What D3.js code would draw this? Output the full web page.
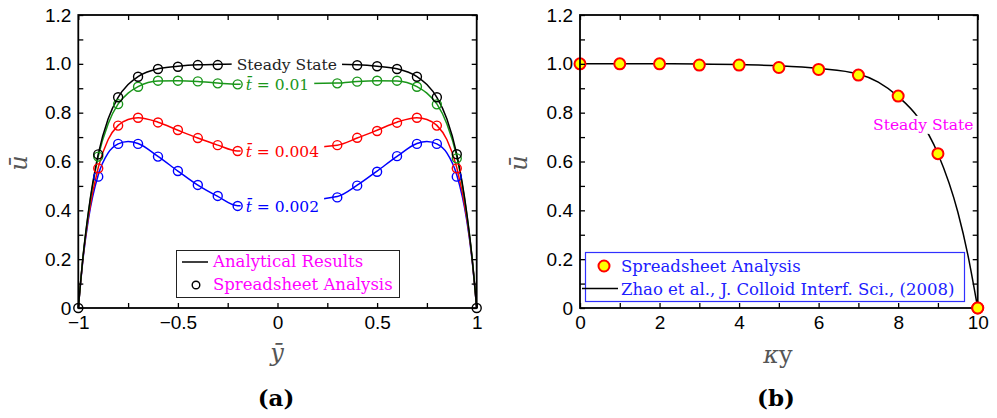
<!DOCTYPE html>
<html lang="en">
<head>
  <meta charset="UTF-8" />
  <title>Velocity profiles</title>
  <script src="https://d3js.org/d3.v7.min.js"></script>
  <style>
    body { margin: 0; background: #fff; }
    svg { display: block; }
    .tick text { font-family: 'Liberation Sans', Arial, sans-serif; font-size: 19px; fill: #000; }
    .tick line { stroke: #000; stroke-width: 1.3; }
    .tex { font-family: 'DejaVu Serif', serif; }
  </style>
</head>
<body>
  <svg id="chart"></svg>

  <script>
    // ---- panel (a): transient profiles, ybar in [-1, 1]
    const lineY = [-1, -0.975, -0.95, -0.9, -0.85, -0.8, -0.75, -0.7, -0.6, -0.5, -0.4, -0.3, -0.2,
                   0.3, 0.4, 0.5, 0.6, 0.7, 0.75, 0.8, 0.85, 0.9, 0.95, 0.975, 1];
    const steadyLine = [0, 0.22, 0.39, 0.63, 0.775, 0.863, 0.915, 0.948, 0.980, 0.990, 0.996, 0.998, 0.999,
                        0.998, 0.996, 0.990, 0.980, 0.948, 0.915, 0.863, 0.775, 0.63, 0.39, 0.22, 0];
    const t01Line = [0, 0.22, 0.385, 0.62, 0.755, 0.836, 0.88, 0.907, 0.930, 0.931, 0.928, 0.921, 0.916,
                     0.921, 0.928, 0.931, 0.930, 0.907, 0.88, 0.836, 0.755, 0.62, 0.385, 0.22, 0];
    const t004Line = [0, 0.215, 0.37, 0.575, 0.69, 0.748, 0.772, 0.779, 0.761, 0.728, 0.696, 0.667, 0.643,
                      0.667, 0.696, 0.728, 0.761, 0.779, 0.772, 0.748, 0.69, 0.575, 0.37, 0.215, 0];
    const t002Line = [0, 0.21, 0.36, 0.545, 0.635, 0.672, 0.682, 0.674, 0.621, 0.561, 0.503, 0.457, 0.419,
                      0.457, 0.503, 0.561, 0.621, 0.674, 0.682, 0.672, 0.635, 0.545, 0.36, 0.21, 0];

    const steadyMarkY = [-1, -0.9, -0.8, -0.7, -0.6, -0.5, -0.4, -0.3, 0.4, 0.5, 0.6, 0.7, 0.8, 0.9, 1];
    const steadyMark = [0, 0.629, 0.863, 0.947, 0.979, 0.988, 0.995, 0.995, 0.994, 0.990, 0.979, 0.947, 0.863, 0.630, 0];
    const markY = [-0.9, -0.8, -0.7, -0.6, -0.5, -0.4, -0.3, -0.2, 0.3, 0.4, 0.5, 0.6, 0.7, 0.8, 0.9];
    const t01Mark = [0.62, 0.835, 0.906, 0.931, 0.931, 0.928, 0.92, 0.916, 0.92, 0.927, 0.931, 0.931, 0.906, 0.834, 0.613];
    const t004Mark = [0.572, 0.747, 0.779, 0.760, 0.729, 0.696, 0.667, 0.643, 0.667, 0.697, 0.725, 0.759, 0.779, 0.747, 0.572];
    const t002Mark = [0.538, 0.672, 0.672, 0.620, 0.561, 0.504, 0.459, 0.418, 0.453, 0.501, 0.558, 0.622, 0.672, 0.672, 0.538];

    const seriesNames = ["Steady State", "0.01", "0.004", "0.002"];
    const seriesColors = ["#000000", "#1a961a", "#ff0000", "#0000ff"];
    const legendA = ["Analytical Results", "Spreadsheet Analysis"];

    // ---- panel (b): steady state vs Zhao et al.
    const kyLine = [0, 1, 2, 3, 4, 5, 6, 7, 7.5, 8, 8.5, 9, 9.5, 9.75, 10];
    const zhaoLine = [1, 1, 1, 0.999, 0.997, 0.992, 0.981, 0.958, 0.925, 0.866, 0.78, 0.632, 0.393, 0.22, 0];
    const kyMark = [0, 1, 2, 3, 4, 5, 6, 7, 8, 9, 10];
    const sheetMark = [1.0, 1.0, 1.0, 0.995, 0.995, 0.985, 0.977, 0.954, 0.868, 0.632, 0];
    const legendB = ["Spreadsheet Analysis", "Zhao et al., J. Colloid Interf. Sci., (2008)"];

    const yTicks = d3.range(0, 13).map(i => i / 10);
    const yLabels = [0, 0.2, 0.4, 0.6, 0.8, 1.0, 1.2];
    const xTicksA = d3.range(-4, 5).map(i => i / 4);
    const xLabelsA = [-1, -0.5, 0, 0.5, 1];
    const xTicksB = d3.range(0, 11);
    const xLabelsB = [0, 2, 4, 6, 8, 10];

    const svg = d3.select("#chart").attr("width", 997).attr("height", 418);

    const plotTop = 15, plotBottom = 308;
    const xA = d3.scaleLinear().domain([-1, 1]).range([78.3, 476.7]);
    const yA = d3.scaleLinear().domain([0, 1.2]).range([plotBottom, plotTop]);
    const xB = d3.scaleLinear().domain([0, 10]).range([580, 977.7]);
    const yB = d3.scaleLinear().domain([0, 1.2]).range([plotBottom, plotTop]);

    const isIn = (v, list) => list.some(l => Math.abs(l - v) < 1e-9);
    const fmtY = v => v === 0 ? "0" : d3.format(".1f")(v);

    function frame(x, y, xTicks, xLabels, xFmt) {
      const g = svg.append("g").attr("font-family", "'Liberation Sans', Arial, sans-serif");
      g.append("g").attr("transform", `translate(0,${plotBottom})`)
        .call(d3.axisBottom(x).tickValues(xTicks).tickSizeInner(-5).tickSizeOuter(0).tickPadding(8)
          .tickFormat(d => isIn(d, xLabels) ? xFmt(d) : ""));
      g.append("g").attr("transform", `translate(0,${plotTop})`)
        .call(d3.axisTop(x).tickValues(xTicks).tickSizeInner(-5).tickSizeOuter(0).tickFormat(""));
      g.append("g").attr("transform", `translate(${x.range()[0]},0)`)
        .call(d3.axisLeft(y).tickValues(yTicks).tickSizeInner(-5).tickSizeOuter(0).tickPadding(7)
          .tickFormat(d => isIn(d, yLabels) ? fmtY(d) : ""));
      g.append("g").attr("transform", `translate(${x.range()[1]},0)`)
        .call(d3.axisRight(y).tickValues(yTicks).tickSizeInner(-5).tickSizeOuter(0).tickFormat(""));
      g.selectAll(".domain").remove();
      g.selectAll("g").attr("font-family", null);
      return g;
    }

    function labelBox(g, px, py, build, color) {
      const grp = g.append("g");
      const bg = grp.append("rect").attr("fill", "#fff");
      const t = grp.append("text").attr("class", "tex").attr("x", px).attr("y", py)
        .attr("font-size", "15.5px").attr("fill", color);
      build(t);
      const b = t.node().getBBox();
      bg.attr("x", b.x - 5).attr("y", b.y).attr("width", b.width + 10).attr("height", b.height);
    }

    // ================= panel (a)
    const lines = [steadyLine, t01Line, t004Line, t002Line];
    const marks = [steadyMark, t01Mark, t004Mark, t002Mark];
    const lineGen = (x, y, xs) => d3.line().x((d, i) => x(xs[i])).y(d => y(d)).curve(d3.curveMonotoneX);

    const gA = svg.append("g");
    [3, 2, 1, 0].forEach(k => {
      gA.append("path").datum(lines[k])
        .attr("fill", "none").attr("stroke", seriesColors[k]).attr("stroke-width", 1.5)
        .attr("d", lineGen(xA, yA, lineY));
    });

    // inline labels sit on a white box that hides the curve behind them
    labelBox(gA, xA(-0.205), yA(0.997) + 5, t => t.text(seriesNames[0]), "#222");
    [1, 2, 3].forEach(k => {
      const yv = [0, 0.916, 0.643, 0.418][k];
      labelBox(gA, xA(-0.16), yA(yv) + 6, t => {
        t.append("tspan").attr("font-style", "italic").text("t\u0304");
        t.append("tspan").text(" = " + seriesNames[k]);
      }, seriesColors[k]);
    });

    [3, 2, 1, 0].forEach(k => {
      const xs = k === 0 ? steadyMarkY : markY;
      gA.selectAll(null).data(marks[k]).join("circle")
        .attr("cx", (d, i) => xA(xs[i])).attr("cy", d => yA(d)).attr("r", 4.5)
        .attr("fill", "none").attr("stroke", seriesColors[k]).attr("stroke-width", 1.4);
    });

    frame(xA, yA, xTicksA, xLabelsA, d => d === 0 ? "0" : d3.format("")(d));
    svg.append("rect").attr("x", xA(-1)).attr("y", plotTop).attr("width", xA(1) - xA(-1)).attr("height", plotBottom - plotTop)
      .attr("fill", "none").attr("stroke", "#000").attr("stroke-width", 1.8);

    // legend (a)
    const lgA = svg.append("g");
    lgA.append("rect").attr("x", 176.5).attr("y", 250.5).attr("width", 223).attr("height", 47)
      .attr("fill", "#fff").attr("stroke", "#222").attr("stroke-width", 1);
    lgA.append("line").attr("x1", 182).attr("x2", 208).attr("y1", 262).attr("y2", 262)
      .attr("stroke", "#000").attr("stroke-width", 1.5);
    lgA.append("circle").attr("cx", 196).attr("cy", 285).attr("r", 3.8)
      .attr("fill", "none").attr("stroke", "#000").attr("stroke-width", 1.4);
    legendA.forEach((s, i) => {
      lgA.append("text").attr("class", "tex").attr("x", 213).attr("y", 267 + i * 23)
        .attr("font-size", "16.5px").attr("fill", "#ff00ff").text(s);
    });

    // axis titles (a)
    svg.append("text").attr("class", "tex").attr("transform", "translate(27,163) rotate(-90)")
      .attr("text-anchor", "middle").attr("font-size", "24px").attr("font-style", "italic").attr("fill", "#555")
      .text("u\u0304");
    svg.append("text").attr("class", "tex").attr("x", 277).attr("y", 361)
      .attr("text-anchor", "middle").attr("font-size", "24px").attr("font-style", "italic").attr("fill", "#555")
      .text("y\u0304");
    svg.append("text").attr("class", "tex").attr("x", 276).attr("y", 406)
      .attr("text-anchor", "middle").attr("font-size", "23px").attr("font-weight", "bold").text("(a)");

    // ================= panel (b)
    const gB = svg.append("g");
    gB.append("path").datum(zhaoLine)
      .attr("fill", "none").attr("stroke", "#000").attr("stroke-width", 1.5)
      .attr("d", lineGen(xB, yB, kyLine));
    labelBox(gB, xB(7.37), yB(0.75) + 5, t => t.text("Steady State"), "#ff00ff");
    gB.selectAll(null).data(sheetMark).join("circle")
      .attr("cx", (d, i) => xB(kyMark[i])).attr("cy", d => yB(d)).attr("r", 5.5)
      .attr("fill", "#ffff00").attr("stroke", "#ff0000").attr("stroke-width", 2);

    frame(xB, yB, xTicksB, xLabelsB, d => String(d));
    svg.append("rect").attr("x", xB(0)).attr("y", plotTop).attr("width", xB(10) - xB(0)).attr("height", plotBottom - plotTop)
      .attr("fill", "none").attr("stroke", "#000").attr("stroke-width", 1.8);
    // last marker sits on the axis corner
    svg.append("circle").attr("cx", xB(10)).attr("cy", yB(0)).attr("r", 5.5)
      .attr("fill", "#ffff00").attr("stroke", "#ff0000").attr("stroke-width", 2);

    // legend (b)
    const lgB = svg.append("g");
    lgB.append("rect").attr("x", 585.5).attr("y", 252.5).attr("width", 379).attr("height", 49)
      .attr("fill", "#fff").attr("stroke", "#3030ff").attr("stroke-width", 1.2);
    lgB.append("circle").attr("cx", 604).attr("cy", 266).attr("r", 5.5)
      .attr("fill", "#ffff00").attr("stroke", "#ff0000").attr("stroke-width", 2);
    lgB.append("line").attr("x1", 582).attr("x2", 618).attr("y1", 288.5).attr("y2", 288.5)
      .attr("stroke", "#000").attr("stroke-width", 1.5);
    legendB.forEach((s, i) => {
      lgB.append("text").attr("class", "tex").attr("x", 621).attr("y", 272 + i * 23)
        .attr("font-size", "16.5px").attr("fill", "#2020ff").text(s);
    });

    // axis titles (b)
    svg.append("text").attr("class", "tex").attr("transform", "translate(527,163) rotate(-90)")
      .attr("text-anchor", "middle").attr("font-size", "24px").attr("font-style", "italic").attr("fill", "#555")
      .text("u\u0304");
    const kyT = svg.append("text").attr("class", "tex").attr("x", 778).attr("y", 363)
      .attr("text-anchor", "middle").attr("font-size", "24px").attr("fill", "#555");
    kyT.append("tspan").attr("font-style", "italic").text("\u03ba");
    kyT.append("tspan").text("y");
    svg.append("text").attr("class", "tex").attr("x", 776).attr("y", 406)
      .attr("text-anchor", "middle").attr("font-size", "23px").attr("font-weight", "bold").text("(b)");
  </script>
</body>
</html>
